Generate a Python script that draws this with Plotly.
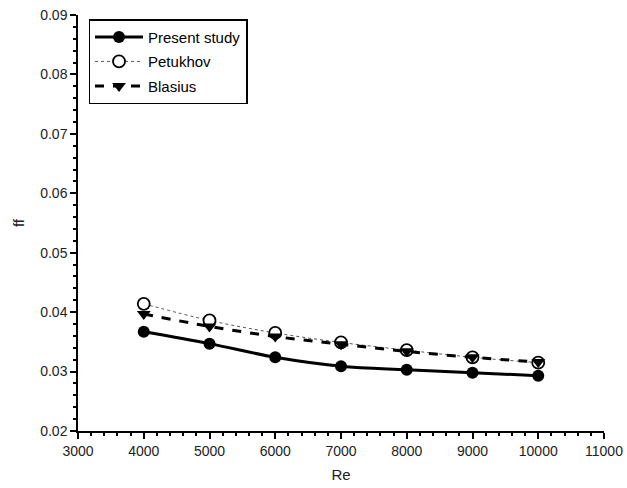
import plotly.graph_objects as go

re_vals = [4000, 5000, 6000, 7000, 8000, 9000, 10000]
present_study = [0.0367, 0.0347, 0.0324, 0.0309, 0.0303, 0.0298, 0.0293]
petukhov = [0.0414, 0.0386, 0.0365, 0.0349, 0.0336, 0.0324, 0.0315]
blasius = [0.0397, 0.0376, 0.0359, 0.0346, 0.0334, 0.0324, 0.0316]

fig = go.Figure()
fig.add_trace(go.Scatter(
    x=re_vals, y=present_study, name="Present study", mode="lines+markers",
    legendgroup="a",
    line=dict(color="black", width=3, shape="spline"),
    marker=dict(symbol="circle", size=12, color="black"),
))
fig.add_trace(go.Scatter(
    x=re_vals, y=petukhov, name="Petukhov", mode="lines+markers",
    legendgroup="b",
    line=dict(color="#555555", width=1, dash="dot", shape="spline"),
    marker=dict(symbol="circle", size=12, color="white", line=dict(color="black", width=1.8)),
))
fig.add_trace(go.Scatter(
    x=re_vals, y=blasius, name="Blasius", mode="lines+markers",
    legendgroup="c",
    line=dict(color="black", width=3, dash="dash", shape="spline"),
    marker=dict(symbol="triangle-down", size=12, color="black"),
))

axis_font = dict(family="Liberation Sans, Arial, sans-serif", size=14, color="#222")
fig.update_layout(
    width=627, height=488,
    margin=dict(l=78, r=23, t=15, b=57),
    paper_bgcolor="white", plot_bgcolor="white",
    font=axis_font,
    showlegend=True,
    legend=dict(
        x=0.02, y=0.99, xanchor="left", yanchor="top",
        bordercolor="black", borderwidth=1.5, bgcolor="white",
        font=dict(family="Liberation Sans, Arial, sans-serif", size=15, color="black"),
        traceorder="grouped", tracegroupgap=2, itemwidth=48,
    ),
    xaxis=dict(
        range=[3000, 11000], dtick=1000, tick0=3000, tickformat="d",
        automargin=False,
        showline=True, linecolor="black", linewidth=1.5,
        ticks="outside", ticklen=6, tickcolor="black", tickwidth=1.5,
        minor=dict(dtick=200, ticks="outside", ticklen=3, tickcolor="black", tickwidth=1.5),
        showgrid=False, zeroline=False,
        title=dict(text="Re", font=dict(size=15, color="#222"), standoff=12),
    ),
    yaxis=dict(
        range=[0.02, 0.09], dtick=0.01, tick0=0.02, tickformat=".2f",
        automargin=False,
        showline=True, linecolor="black", linewidth=1.5,
        ticks="outside", ticklen=6, tickcolor="black", tickwidth=1.5,
        minor=dict(dtick=0.002, ticks="outside", ticklen=3, tickcolor="black", tickwidth=1.5),
        showgrid=False, zeroline=False,
        title=dict(text="ff", font=dict(size=15, color="#222"), standoff=12),
    ),
)

fig.write_html("out.html")
